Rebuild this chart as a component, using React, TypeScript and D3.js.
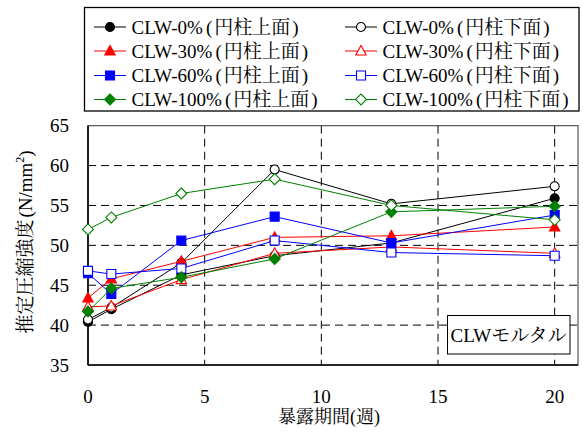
import React from "react";
import * as d3 from "d3";

// Exposure period (weeks) at which cores were tested
const weeks = [0, 1, 4, 8, 13, 20];

// Estimated compressive strength (N/mm²), top face / bottom face of cylinder
const clw0Top = [40.4, 42.0, 46.3, 48.7, 50.3, 55.9];
const clw0Bottom = [40.7, 42.2, 47.8, 59.5, 55.2, 57.4];
const clw30Top = [43.4, 45.8, 48.0, 51.0, 51.2, 52.3];
const clw30Bottom = [42.3, 42.4, 45.7, 49.0, 49.8, 49.0];
const clw60Top = [46.5, 43.9, 50.6, 53.6, 50.3, 53.8];
const clw60Bottom = [46.8, 46.4, 47.1, 50.6, 49.1, 48.7];
const clw100Top = [41.7, 44.6, 46.0, 48.3, 54.2, 54.9];
const clw100Bottom = [52.0, 53.5, 56.5, 58.3, 55.0, 53.2];

const xTicks = [0, 5, 10, 15, 20];
const yTicks = [35, 40, 45, 50, 55, 60, 65];
const xGrid = [5, 10, 15, 20];
const yGrid = [40, 45, 50, 55, 60];

type Shape = "circle" | "triangle" | "square" | "diamond";

interface Series {
  mix: string;
  face: string;
  values: number[];
  color: string;
  shape: Shape;
  filled: boolean;
}

const series: Series[] = [
  { mix: "CLW-0%", face: "円柱上面", values: clw0Top, color: "#000000", shape: "circle", filled: true },
  { mix: "CLW-0%", face: "円柱下面", values: clw0Bottom, color: "#000000", shape: "circle", filled: false },
  { mix: "CLW-30%", face: "円柱上面", values: clw30Top, color: "#ff0000", shape: "triangle", filled: true },
  { mix: "CLW-30%", face: "円柱下面", values: clw30Bottom, color: "#ff0000", shape: "triangle", filled: false },
  { mix: "CLW-60%", face: "円柱上面", values: clw60Top, color: "#0000ff", shape: "square", filled: true },
  { mix: "CLW-60%", face: "円柱下面", values: clw60Bottom, color: "#0000ff", shape: "square", filled: false },
  { mix: "CLW-100%", face: "円柱上面", values: clw100Top, color: "#008000", shape: "diamond", filled: true },
  { mix: "CLW-100%", face: "円柱下面", values: clw100Bottom, color: "#008000", shape: "diamond", filled: false },
];

const W = 583;
const H = 432;
const plot = { left: 88, right: 578, top: 125.7, bottom: 365 };

const x = d3.scaleLinear().domain([0, 21]).range([plot.left, plot.right]);
const y = d3.scaleLinear().domain([35, 65]).range([plot.bottom, plot.top]);

const FS = 19;
const serifStyle = { fontFamily: "Liberation Serif" };
const cjkStyle = { fontFamily: "Noto Serif CJK JP" };

function markerPath(shape: Shape): string {
  switch (shape) {
    case "circle":
      return "M4.5,0A4.5,4.5,0,1,1,-4.5,0A4.5,4.5,0,1,1,4.5,0Z";
    case "square":
      return "M-4.5,-4.5H4.5V4.5H-4.5Z";
    case "triangle":
      return "M0,-5.5L5.2,4L-5.2,4Z";
    case "diamond":
      return "M0,-5.5L5.5,0L0,5.5L-5.5,0Z";
  }
}

function Marker({ s, cx, cy }: { s: Series; cx: number; cy: number }) {
  return (
    <path
      d={markerPath(s.shape)}
      transform={`translate(${cx},${cy})`}
      fill={s.filled ? s.color : "#ffffff"}
      stroke={s.color}
      strokeWidth={1.1}
    />
  );
}

function Label({ s, tx, ty }: { s: Series; tx: number; ty: number }) {
  return (
    <text x={tx} y={ty} fontSize={FS} fill="#000" style={serifStyle}>
      {s.mix}
      <tspan dx={3}>(</tspan>
      <tspan dx={2} style={cjkStyle}>{s.face}</tspan>
      <tspan dx={2}>)</tspan>
    </text>
  );
}

export default function App() {
  const line = d3
    .line<number>()
    .x((_, i) => x(weeks[i]))
    .y((v) => y(v));

  const legendRows = [27, 51, 75.5, 99.5];
  const legendCols = [
    { x0: 94, x1: 126, tx: 131.5 },
    { x0: 345, x1: 377, tx: 382.5 },
  ];

  return (
    <svg
      width={W}
      height={H}
      viewBox={`0 0 ${W} ${H}`}
      style={{ position: "absolute", left: 0, top: 0, display: "block", background: "#fff" }}
    >
      <rect x={0} y={0} width={W} height={H} fill="#fff" />

      {/* grid */}
      <g stroke="#000" strokeWidth={1} strokeDasharray="8,5" fill="none">
        {xGrid.map((t) => (
          <line key={`gx${t}`} x1={x(t)} x2={x(t)} y1={plot.top} y2={plot.bottom} />
        ))}
        {yGrid.map((t) => (
          <line key={`gy${t}`} x1={plot.left} x2={plot.right} y1={y(t)} y2={y(t)} />
        ))}
      </g>

      {/* frame */}
      <rect
        x={plot.left}
        y={plot.top}
        width={plot.right - plot.left}
        height={plot.bottom - plot.top}
        fill="none"
        stroke="#333"
        strokeWidth={1}
      />
      <line x1={plot.left} x2={plot.left} y1={plot.top} y2={plot.bottom} stroke="#000" strokeWidth={1.6} />
      <line x1={plot.left} x2={plot.right} y1={plot.bottom} y2={plot.bottom} stroke="#000" strokeWidth={1.6} />

      {/* inset label */}
      <rect x={447.5} y={315.5} width={122.5} height={38.5} fill="#fff" stroke="#000" strokeWidth={1} />
      <text x={508.5} y={341.5} textAnchor="middle" fontSize={FS} style={serifStyle}>
        CLW<tspan style={cjkStyle}>モルタル</tspan>
      </text>

      {/* series */}
      {series.map((s, si) => (
        <g key={`s${si}`}>
          <path d={line(s.values) ?? ""} fill="none" stroke={s.color} strokeWidth={1} />
          {s.values.map((v, i) => (
            <Marker key={i} s={s} cx={x(weeks[i])} cy={y(v)} />
          ))}
        </g>
      ))}

      {/* tick labels */}
      {yTicks.map((t) => (
        <text key={`yl${t}`} x={69} y={y(t) + 6.5} textAnchor="end" fontSize={FS} style={serifStyle}>
          {t}
        </text>
      ))}
      {xTicks.map((t) => (
        <text key={`xl${t}`} x={x(t)} y={403} textAnchor="middle" fontSize={FS} style={serifStyle}>
          {t}
        </text>
      ))}

      {/* axis titles */}
      <text x={329} y={422.5} textAnchor="middle" fontSize={18} style={serifStyle}>
        <tspan style={cjkStyle}>暴露期間</tspan>(<tspan style={cjkStyle}>週</tspan>)
      </text>
      <text transform={`translate(32,242) rotate(-90)`} textAnchor="middle" fontSize={FS} style={serifStyle}>
        <tspan style={cjkStyle}>推定圧縮強度</tspan>
        <tspan dx={2}>(N/mm</tspan>
        <tspan fontSize={12} dy={-8}>2</tspan>
        <tspan dy={8}>)</tspan>
      </text>

      {/* legend */}
      <rect x={84.5} y={7.5} width={494.5} height={103.5} fill="#fff" stroke="#000" strokeWidth={1.3} />
      {series.map((s, si) => {
        const col = legendCols[si % 2];
        const ry = legendRows[Math.floor(si / 2)];
        return (
          <g key={`lg${si}`}>
            <line x1={col.x0} x2={col.x1} y1={ry} y2={ry} stroke={s.color} strokeWidth={1} />
            <Marker s={s} cx={(col.x0 + col.x1) / 2} cy={ry} />
            <Label s={s} tx={col.tx} ty={ry + 6.5} />
          </g>
        );
      })}
    </svg>
  );
}
